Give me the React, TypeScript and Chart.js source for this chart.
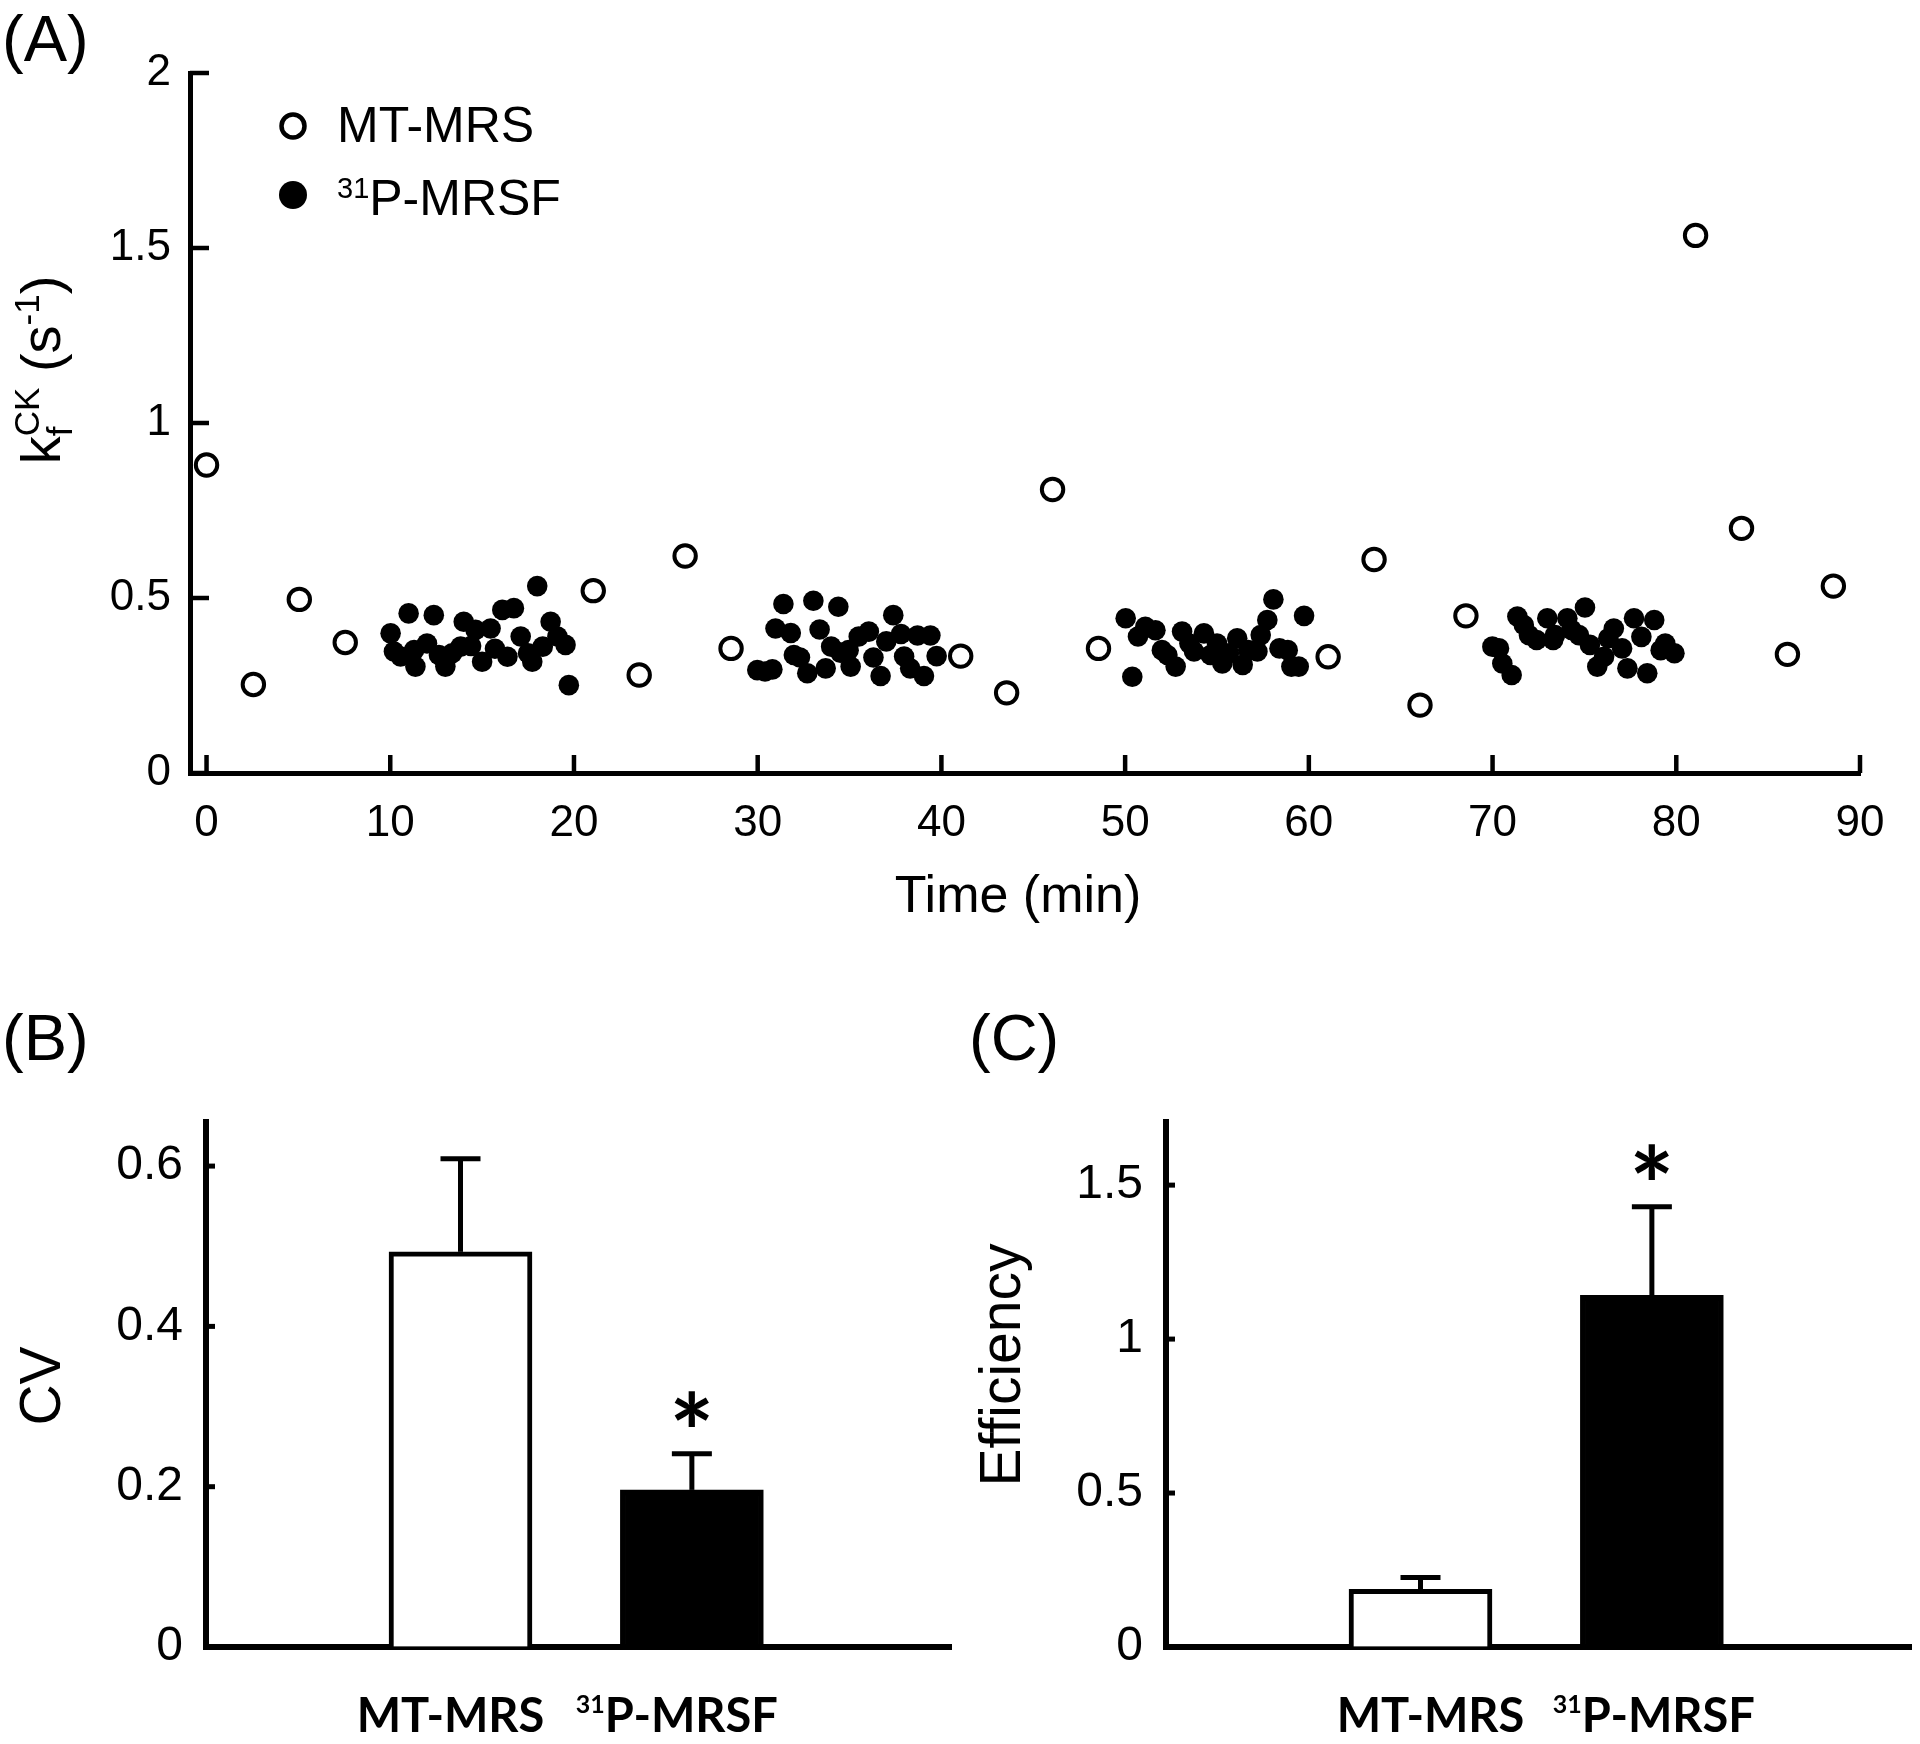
import React, { useEffect, useRef } from 'react';
import { Chart, registerables } from 'chart.js';

Chart.register(...registerables);

const FONT = '"Liberation Sans", Arial, Helvetica, sans-serif';
const BOLD_FONT = 'Lato, "Liberation Sans", Arial, sans-serif';

// ---------- Panel A data ----------
const xTickValues = [0, 10, 20, 30, 40, 50, 60, 70, 80, 90];
const yTickValuesA = [0, 0.5, 1, 1.5, 2];

const mtTime = [0, 2.55, 5.05, 7.55, 21.05, 23.55, 26.05, 28.55, 41.05, 43.55, 46.05, 48.55, 61.05, 63.55, 66.05, 68.55, 81.05, 83.55, 86.05, 88.55];
const mtKf = [0.88, 0.253, 0.496, 0.373, 0.521, 0.28, 0.62, 0.356, 0.334, 0.229, 0.81, 0.356, 0.332, 0.61, 0.194, 0.449, 1.536, 0.699, 0.339, 0.534];

const mrsfTime1 = [10.02, 10.2, 10.56, 11.0, 11.3, 11.37, 12.0, 12.37, 12.65, 13.0, 13.37, 13.83, 14.0, 14.4, 14.64, 15.0, 15.46, 15.7, 16.1, 16.38, 16.73, 17.1, 17.5, 17.73, 18.0, 18.3, 18.73, 19.1, 19.54, 19.72];
const mrsfKf1 = [0.399, 0.347, 0.333, 0.456, 0.351, 0.304, 0.37, 0.451, 0.337, 0.304, 0.342, 0.361, 0.432, 0.363, 0.409, 0.318, 0.413, 0.355, 0.466, 0.332, 0.471, 0.39, 0.342, 0.318, 0.534, 0.361, 0.432, 0.39, 0.366, 0.251];
const mrsfTime2 = [29.98, 30.4, 30.8, 30.97, 31.4, 31.8, 31.97, 32.3, 32.7, 33.03, 33.37, 33.7, 34.0, 34.39, 34.5, 34.95, 35.06, 35.5, 36.05, 36.3, 36.69, 37.0, 37.38, 37.8, 37.97, 38.3, 38.7, 39.05, 39.4, 39.74];
const mrsfKf2 = [0.294, 0.29, 0.296, 0.413, 0.483, 0.4, 0.337, 0.33, 0.285, 0.492, 0.41, 0.299, 0.361, 0.475, 0.344, 0.351, 0.304, 0.39, 0.404, 0.33, 0.277, 0.376, 0.451, 0.397, 0.333, 0.299, 0.393, 0.277, 0.393, 0.334];
const mrsfTime3 = [50.03, 50.39, 50.7, 51.1, 51.65, 52.0, 52.3, 52.75, 53.1, 53.5, 53.75, 54.29, 54.65, 55.0, 55.29, 55.65, 56.1, 56.4, 56.7, 57.2, 57.38, 57.74, 58.07, 58.4, 58.85, 59.05, 59.45, 59.74];
const mrsfKf3 = [0.442, 0.275, 0.39, 0.418, 0.408, 0.351, 0.337, 0.304, 0.404, 0.37, 0.347, 0.399, 0.337, 0.37, 0.313, 0.342, 0.385, 0.309, 0.351, 0.347, 0.394, 0.437, 0.496, 0.356, 0.351, 0.304, 0.304, 0.449];
const mrsfTime4 = [69.99, 70.35, 70.53, 71.04, 71.35, 71.7, 71.98, 72.4, 72.98, 73.3, 73.4, 74.07, 74.3, 74.7, 75.03, 75.3, 75.7, 76.07, 76.3, 76.6, 77.05, 77.34, 77.7, 78.1, 78.42, 78.8, 79.15, 79.4, 79.9];
const mrsfKf4 = [0.361, 0.356, 0.313, 0.28, 0.447, 0.423, 0.394, 0.38, 0.442, 0.38, 0.394, 0.442, 0.409, 0.394, 0.473, 0.366, 0.304, 0.332, 0.385, 0.413, 0.356, 0.299, 0.442, 0.389, 0.285, 0.437, 0.351, 0.37, 0.342];

const mrsfTime = [...mrsfTime1, ...mrsfTime2, ...mrsfTime3, ...mrsfTime4];
const mrsfKf = [...mrsfKf1, ...mrsfKf2, ...mrsfKf3, ...mrsfKf4];

// ---------- Panels B & C data ----------
const groupSup = ['', '31'];
const groupMain = ['MT-MRS', 'P-MRSF'];
const groupPositions = [1.1, 2.1];
const cvMean = [0.493, 0.196];
const cvErr = [0.116, 0.045];
const cvTicks = [0, 0.2, 0.4, 0.6];
const effMean = [0.187, 1.142];
const effErr = [0.039, 0.288];
const effTicks = [0, 0.5, 1, 1.5];
const significant = [false, true];

type Part = { t: string; size: number; weight?: string; family?: string; dy?: number; noAdvance?: boolean };

function setFont(ctx: CanvasRenderingContext2D, p: Part) {
  ctx.font = `${p.weight || 'normal'} ${p.size}px ${p.family || FONT}`;
}
function richWidth(ctx: CanvasRenderingContext2D, parts: Part[]) {
  let w = 0;
  for (const p of parts) {
    setFont(ctx, p);
    if (!p.noAdvance) w += ctx.measureText(p.t).width;
  }
  return w;
}
function drawRich(ctx: CanvasRenderingContext2D, parts: Part[], x: number, y: number) {
  let cx = x;
  ctx.textAlign = 'left';
  ctx.textBaseline = 'alphabetic';
  for (const p of parts) {
    setFont(ctx, p);
    ctx.fillText(p.t, cx, y + (p.dy || 0));
    if (!p.noAdvance) cx += ctx.measureText(p.t).width;
  }
}

function line(ctx: CanvasRenderingContext2D, x1: number, y1: number, x2: number, y2: number) {
  ctx.beginPath();
  ctx.moveTo(x1, y1);
  ctx.lineTo(x2, y2);
  ctx.stroke();
}

const panelAPlugin = {
  id: 'panelA',
  afterDraw(chart: any) {
    const ctx: CanvasRenderingContext2D = chart.ctx;
    const { left, bottom } = chart.chartArea;
    const xs = chart.scales.x;
    const ys = chart.scales.y;
    ctx.save();
    ctx.strokeStyle = '#000';
    ctx.fillStyle = '#000';
    ctx.lineWidth = 4.5;
    ctx.lineCap = 'butt';
    for (const v of xTickValues) {
      const px = xs.getPixelForValue(v);
      line(ctx, px, bottom, px, bottom - 18);
    }
    for (const v of yTickValuesA) {
      const py = ys.getPixelForValue(v);
      line(ctx, left, py, left + 19, py);
    }
    // legend
    const lx = left + 103;
    ctx.lineWidth = 4.5;
    ctx.fillStyle = '#fff';
    ctx.beginPath();
    ctx.arc(lx, 126, 11.5, 0, Math.PI * 2);
    ctx.fill();
    ctx.stroke();
    ctx.fillStyle = '#000';
    ctx.beginPath();
    ctx.arc(lx, 195, 14, 0, Math.PI * 2);
    ctx.fill();
    drawRich(ctx, [{ t: 'MT-MRS', size: 50 }], lx + 44, 142);
    drawRich(ctx, [{ t: '31', size: 29, dy: -17 }, { t: 'P-MRSF', size: 50 }], lx + 44, 215);
    // panel label
    drawRich(ctx, [{ t: '(A)', size: 65 }], 2, 61);
    // x title
    ctx.font = `52px ${FONT}`;
    ctx.textAlign = 'center';
    ctx.textBaseline = 'alphabetic';
    ctx.fillText('Time (min)', 1018, 912);
    // y title rotated
    const parts: Part[] = [
      { t: 'k', size: 56 },
      { t: 'f', size: 35, dy: 12, noAdvance: true },
      { t: 'CK', size: 35, dy: -21 },
      { t: ' (s', size: 56 },
      { t: '-1', size: 35, dy: -21 },
      { t: ')', size: 56 },
    ];
    const w = richWidth(ctx, parts);
    ctx.translate(60, 370);
    ctx.rotate(-Math.PI / 2);
    drawRich(ctx, parts, -w / 2, 0);
    ctx.restore();
  },
};

function makeBarPlugin(id: string, means: number[], errs: number[], ticks: number[], title: string, titleY: number, label: string, labelX: number, labelOffsets: number[]) {
  return {
    id,
    afterDraw(chart: any) {
      const ctx: CanvasRenderingContext2D = chart.ctx;
      const { left, bottom } = chart.chartArea;
      const ys = chart.scales.y;
      const xs = chart.scales.x;
      const meta = chart.getDatasetMeta(0);
      ctx.save();
      ctx.strokeStyle = '#000';
      ctx.fillStyle = '#000';
      ctx.lineWidth = 5;
      for (const v of ticks) {
        const py = ys.getPixelForValue(v);
        line(ctx, left, py, left + 9, py);
      }
      meta.data.forEach((el: any, i: number) => {
        const top = ys.getPixelForValue(means[i] + errs[i]);
        ctx.lineWidth = 5;
        line(ctx, el.x, el.y, el.x, top);
        line(ctx, el.x - 20, top, el.x + 20, top);
        if (significant[i]) {
          ctx.font = `bold 100px ${BOLD_FONT}`;
          const m = ctx.measureText('*');
          const inkW = m.actualBoundingBoxLeft + m.actualBoundingBoxRight;
          const size = (100 * 35) / (inkW || 40);
          ctx.font = `bold ${size}px ${BOLD_FONT}`;
          const m2 = ctx.measureText('*');
          const cy = top - 45;
          const base = cy + (m2.actualBoundingBoxAscent - m2.actualBoundingBoxDescent) / 2;
          ctx.textAlign = 'center';
          ctx.textBaseline = 'alphabetic';
          ctx.fillText('*', el.x, base);
        }
      });
      // group labels
      groupPositions.forEach((gx, i) => {
        const cx = xs.getPixelForValue(gx) + labelOffsets[i];
        const parts: Part[] = [];
        if (groupSup[i]) parts.push({ t: groupSup[i], size: 25, weight: 'bold', family: BOLD_FONT, dy: -19 });
        parts.push({ t: groupMain[i], size: 47, weight: 'bold', family: BOLD_FONT });
        const w = richWidth(ctx, parts);
        drawRich(ctx, parts, cx - w / 2, bottom + 85);
      });
      // panel label
      drawRich(ctx, [{ t: label, size: 65 }], labelX, 100);
      // y title
      ctx.font = `57px ${FONT}`;
      ctx.textAlign = 'center';
      ctx.textBaseline = 'alphabetic';
      ctx.translate(60, titleY);
      ctx.rotate(-Math.PI / 2);
      ctx.fillText(title, 0, 0);
      ctx.restore();
    },
  };
}

function barConfig(means: number[], ticks: number[], yMax: number, plugin: any) {
  return {
    type: 'bar' as const,
    data: {
      datasets: [
        {
          data: groupPositions.map((x, i) => ({ x, y: means[i] })),
          backgroundColor: ['#ffffff', '#000000'],
          borderColor: '#000000',
          borderWidth: 5,
          barThickness: 143,
          borderSkipped: 'start' as const,
        },
      ],
    },
    options: {
      responsive: false,
      animation: false as const,
      events: [] as any[],
      layout: { padding: { top: 162, right: 9, bottom: 0, left: 0 } },
      plugins: { legend: { display: false }, tooltip: { enabled: false } },
      scales: {
        x: {
          type: 'linear' as const,
          min: 0,
          max: 3.22,
          offset: false,
          afterBuildTicks: (s: any) => { s.ticks = []; },
          afterFit: (s: any) => { s.height = 97; },
          grid: { display: true, drawOnChartArea: false, drawTicks: false, color: 'rgba(0,0,0,0)' },
          border: { display: true, color: '#000', width: 6 },
          ticks: { display: false },
        },
        y: {
          min: 0,
          max: yMax,
          afterBuildTicks: (s: any) => { s.ticks = ticks.map((v) => ({ value: v })); },
          afterFit: (s: any) => { s.width = 206; },
          grid: { display: true, drawOnChartArea: false, drawTicks: false, color: 'rgba(0,0,0,0)' },
          border: { display: true, color: '#000', width: 6 },
          ticks: { color: '#000', font: { family: FONT, size: 48 }, padding: 23, callback: (v: any) => String(v) },
        },
      },
    },
    plugins: [plugin],
  };
}

export default function App() {
  const refA = useRef<HTMLCanvasElement>(null);
  const refB = useRef<HTMLCanvasElement>(null);
  const refC = useRef<HTMLCanvasElement>(null);

  useEffect(() => {
    document.body.style.margin = '0';
    const chartA = new Chart(refA.current as HTMLCanvasElement, {
      type: 'scatter',
      data: {
        datasets: [
          {
            label: 'MT-MRS',
            data: mtTime.map((x, i) => ({ x, y: mtKf[i] })),
            pointRadius: 10.7,
            pointHoverRadius: 10.7,
            pointBorderWidth: 4,
            pointBackgroundColor: '#ffffff',
            pointBorderColor: '#000000',
          },
          {
            label: '31P-MRSF',
            data: mrsfTime.map((x, i) => ({ x, y: mrsfKf[i] })),
            pointRadius: 10.3,
            pointHoverRadius: 10.3,
            pointBorderWidth: 0,
            pointBackgroundColor: '#000000',
            pointBorderColor: '#000000',
          },
        ],
      },
      options: {
        responsive: false,
        animation: false,
        events: [],
        layout: { padding: { top: 73, right: 60, bottom: 0, left: 0 } },
        plugins: { legend: { display: false }, tooltip: { enabled: false } },
        scales: {
          x: {
            type: 'linear',
            min: -0.9,
            max: 90,
            afterBuildTicks: (s: any) => { s.ticks = xTickValues.map((v) => ({ value: v })); },
            afterFit: (s: any) => { s.height = 187; },
            grid: { display: true, drawOnChartArea: false, drawTicks: false, color: 'rgba(0,0,0,0)' },
            border: { display: true, color: '#000', width: 5 },
            ticks: { color: '#000', font: { family: FONT, size: 44 }, padding: 24, maxRotation: 0, autoSkip: false, callback: (v: any) => String(v) },
          },
          y: {
            min: 0,
            max: 2,
            afterBuildTicks: (s: any) => { s.ticks = yTickValuesA.map((v) => ({ value: v })); },
            afterFit: (s: any) => { s.width = 190; },
            grid: { display: true, drawOnChartArea: false, drawTicks: false, color: 'rgba(0,0,0,0)' },
            border: { display: true, color: '#000', width: 5 },
            ticks: { color: '#000', font: { family: FONT, size: 44 }, padding: 19, callback: (v: any) => String(v) },
          },
        },
      },
      plugins: [panelAPlugin],
    } as any);

    const chartB = new Chart(
      refB.current as HTMLCanvasElement,
      barConfig(cvMean, cvTicks, 0.655, makeBarPlugin('panelB', cvMean, cvErr, cvTicks, 'CV', 426, '(B)', 2, [-10, -15])) as any
    );
    const chartC = new Chart(
      refC.current as HTMLCanvasElement,
      barConfig(effMean, effTicks, 1.705, makeBarPlugin('panelC', effMean, effErr, effTicks, 'Efficiency', 405, '(C)', 9, [10, 2])) as any
    );
    return () => {
      chartA.destroy();
      chartB.destroy();
      chartC.destroy();
    };
  }, []);

  return (
    <div style={{ position: 'relative', width: 1920, height: 1744, background: '#fff' }}>
      <canvas ref={refA} width={1920} height={960} style={{ position: 'absolute', left: 0, top: 0, width: 1920, height: 960 }} />
      <canvas ref={refB} width={960} height={784} style={{ position: 'absolute', left: 0, top: 960, width: 960, height: 784 }} />
      <canvas ref={refC} width={960} height={784} style={{ position: 'absolute', left: 960, top: 960, width: 960, height: 784 }} />
    </div>
  );
}
